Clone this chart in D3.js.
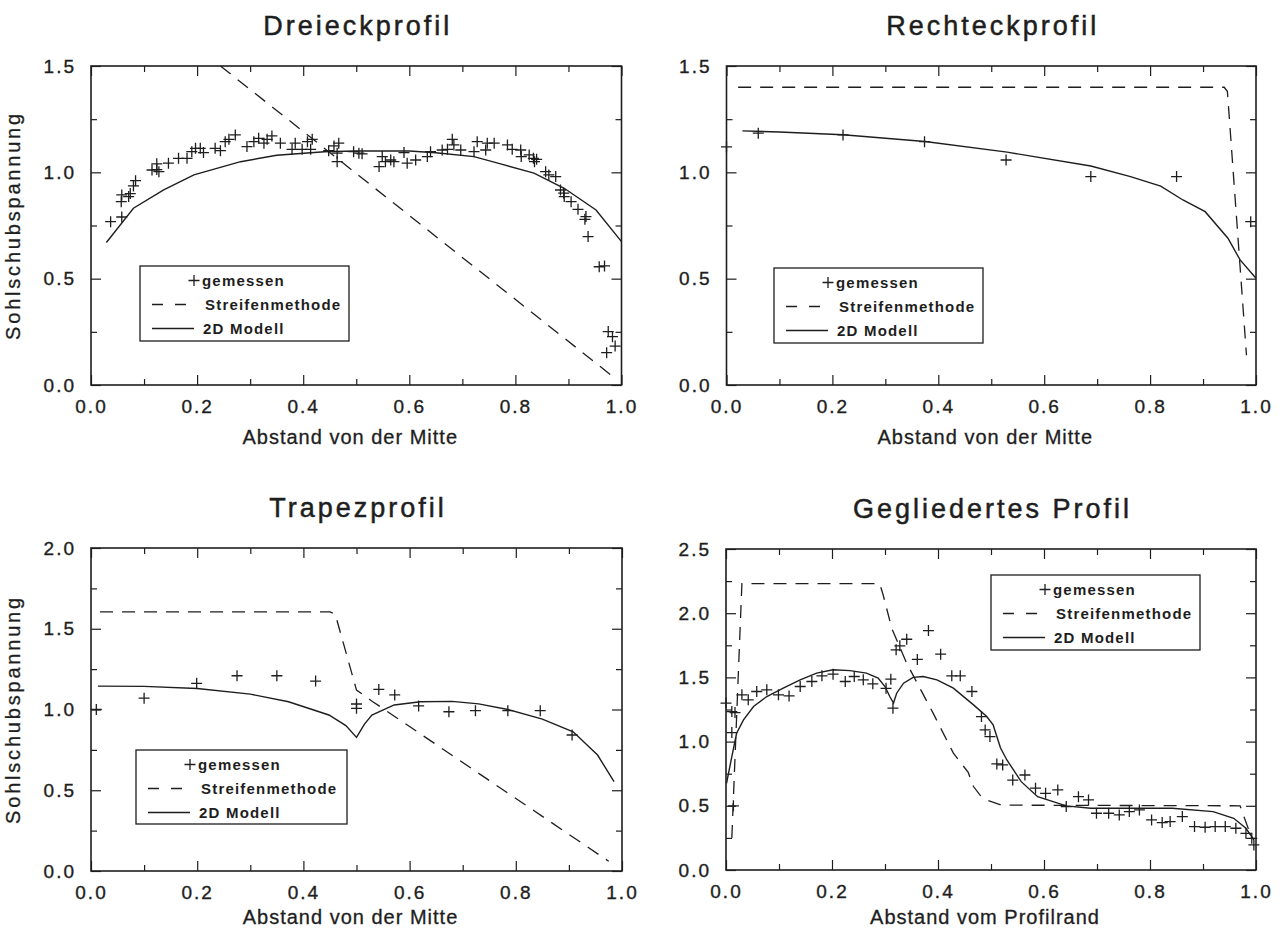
<!DOCTYPE html>
<html><head><meta charset="utf-8">
<script src="https://cdn.jsdelivr.net/npm/d3@7"></script>
<style>
body{margin:0;background:#fff}
text{font-family:"Liberation Sans",Arial,Helvetica,sans-serif;fill:#1e1e1e}
</style>
</head><body>
<svg id="chart" width="1283" height="932"></svg>
<script>
// ---------------- DATA ----------------
const xMajorTicks = [0, 0.2, 0.4, 0.6, 0.8, 1.0];
const xMinorTicks = [0.1, 0.3, 0.5, 0.7, 0.9];
const yMajorTicks15 = [0, 0.5, 1.0, 1.5];
const yMinorTicks15 = [0.25, 0.75, 1.25];
const yMajorTicks20 = [0, 0.5, 1.0, 1.5, 2.0];
const yMinorTicks20 = [0.25, 0.75, 1.25, 1.75];
const yMajorTicks25 = [0, 0.5, 1.0, 1.5, 2.0, 2.5];
const yMinorTicks25 = [0.25, 0.75, 1.25, 1.75, 2.25];

const titles = ["Dreieckprofil", "Rechteckprofil", "Trapezprofil", "Gegliedertes Profil"];
const xTitles = ["Abstand von der Mitte", "Abstand von der Mitte", "Abstand von der Mitte", "Abstand vom Profilrand"];
const yTitle = "Sohlschubspannung";
const legendLabels = ["gemessen", "Streifenmethode", "2D Modell"];

// Dreieckprofil
const dreieckGemessen = [[0.037,0.768],[0.058,0.79],[0.057,0.862],[0.058,0.894],[0.071,0.886],[0.074,0.90],[0.080,0.936],[0.084,0.961],[0.115,1.011],[0.124,1.013],[0.128,1.003],[0.124,1.04],[0.146,1.043],[0.165,1.066],[0.181,1.066],[0.19,1.097],[0.197,1.113],[0.206,1.113],[0.212,1.093],[0.234,1.113],[0.244,1.102],[0.253,1.144],[0.26,1.155],[0.272,1.176],[0.294,1.121],[0.307,1.144],[0.316,1.16],[0.326,1.137],[0.332,1.155],[0.341,1.171],[0.357,1.137],[0.379,1.108],[0.385,1.137],[0.398,1.108],[0.408,1.144],[0.414,1.108],[0.417,1.155],[0.448,1.102],[0.458,1.124],[0.464,1.09],[0.467,1.137],[0.464,1.05],[0.495,1.097],[0.505,1.09],[0.511,1.087],[0.543,1.027],[0.549,1.074],[0.555,1.05],[0.565,1.058],[0.571,1.05],[0.59,1.093],[0.596,1.043],[0.612,1.058],[0.634,1.074],[0.64,1.097],[0.662,1.105],[0.672,1.108],[0.681,1.155],[0.684,1.129],[0.697,1.105],[0.722,1.097],[0.728,1.144],[0.744,1.105],[0.747,1.137],[0.76,1.137],[0.785,1.129],[0.794,1.108],[0.81,1.105],[0.811,1.074],[0.826,1.082],[0.834,1.066],[0.836,1.05],[0.84,1.061],[0.857,1.003],[0.863,0.988],[0.876,0.98],[0.885,0.917],[0.891,0.902],[0.892,0.886],[0.905,0.862],[0.918,0.826],[0.933,0.792],[0.931,0.779],[0.937,0.698],[0.958,0.556],[0.968,0.56],[0.975,0.251],[0.983,0.227],[0.988,0.183],[0.972,0.152]];
const dreieckStreifen = [[0.244,1.5],[0.98,0.047]];
const dreieckModell = [[0.029,0.67],[0.08,0.831],[0.137,0.917],[0.194,0.988],[0.282,1.05],[0.35,1.08],[0.44,1.097],[0.5,1.1],[0.6,1.1],[0.65,1.092],[0.722,1.074],[0.772,1.04],[0.835,0.996],[0.892,0.925],[0.952,0.823],[1.0,0.674]];

// Rechteckprofil
const rechteckGemessen = [[0.0,1.12],[0.06,1.184],[0.22,1.176],[0.374,1.144],[0.528,1.058],[0.688,0.98],[0.85,0.98],[0.99,0.768]];
const rechteckStreifen = [[0.022,1.4],[0.94,1.4],[0.946,1.38],[0.982,0.14]];
const rechteckModell = [[0.03,1.195],[0.1,1.19],[0.22,1.177],[0.375,1.145],[0.53,1.095],[0.688,1.03],[0.763,0.98],[0.82,0.935],[0.862,0.87],[0.904,0.815],[0.947,0.69],[0.97,0.588],[1.0,0.502]];

// Trapezprofil
const trapezGemessen = [[0.01,1.0],[0.1,1.07],[0.199,1.162],[0.275,1.209],[0.35,1.209],[0.423,1.176],[0.5,1.034],[0.5,1.007],[0.542,1.124],[0.572,1.09],[0.617,1.022],[0.674,0.986],[0.724,0.993],[0.785,0.993],[0.846,0.993],[0.906,0.842]];
const trapezStreifen = [[0.017,1.605],[0.45,1.605],[0.46,1.59],[0.5,1.12],[0.53,1.05],[0.975,0.06]];
const trapezModell = [[0.013,1.145],[0.1,1.143],[0.2,1.13],[0.3,1.095],[0.372,1.048],[0.448,0.966],[0.48,0.9],[0.5,0.827],[0.515,0.91],[0.529,0.966],[0.571,1.028],[0.62,1.048],[0.68,1.05],[0.73,1.035],[0.785,1.0],[0.85,0.94],[0.908,0.862],[0.954,0.718],[0.985,0.553]];

// Gegliedertes Profil
const gegliedertGemessen = [[0.0,1.3],[0.011,1.234],[0.017,1.226],[0.011,1.07],[0.014,0.5],[0.03,1.364],[0.042,1.325],[0.058,1.39],[0.077,1.403],[0.099,1.364],[0.119,1.356],[0.14,1.429],[0.162,1.468],[0.181,1.512],[0.202,1.525],[0.225,1.468],[0.242,1.507],[0.259,1.481],[0.277,1.45],[0.302,1.415],[0.311,1.486],[0.315,1.26],[0.321,1.715],[0.328,1.746],[0.341,1.797],[0.361,1.64],[0.382,1.865],[0.405,1.681],[0.426,1.512],[0.442,1.512],[0.464,1.39],[0.482,1.195],[0.489,1.091],[0.498,1.039],[0.511,0.826],[0.522,0.818],[0.541,0.70],[0.564,0.74],[0.584,0.637],[0.603,0.597],[0.626,0.624],[0.642,0.494],[0.665,0.571],[0.684,0.546],[0.699,0.442],[0.722,0.442],[0.742,0.429],[0.761,0.455],[0.78,0.468],[0.803,0.39],[0.823,0.369],[0.838,0.377],[0.861,0.416],[0.884,0.338],[0.904,0.333],[0.923,0.338],[0.942,0.338],[0.962,0.325],[0.981,0.286],[0.992,0.247],[0.996,0.195]];
const gegliedertStreifen = [[0.011,0.25],[0.03,2.23],[0.29,2.23],[0.296,2.15],[0.313,1.88],[0.341,1.61],[0.391,1.22],[0.429,0.91],[0.457,0.76],[0.467,0.65],[0.48,0.58],[0.495,0.54],[0.52,0.505],[0.97,0.5],[0.99,0.27]];
const gegliedertModell = [[0.001,0.675],[0.011,0.883],[0.02,1.065],[0.033,1.169],[0.052,1.273],[0.077,1.351],[0.108,1.416],[0.14,1.481],[0.171,1.533],[0.202,1.559],[0.234,1.553],[0.265,1.533],[0.287,1.494],[0.3,1.429],[0.309,1.351],[0.316,1.3],[0.322,1.377],[0.335,1.455],[0.353,1.5],[0.372,1.507],[0.398,1.481],[0.429,1.416],[0.467,1.286],[0.492,1.195],[0.504,1.13],[0.511,1.04],[0.518,0.95],[0.53,0.857],[0.557,0.688],[0.588,0.571],[0.642,0.499],[0.688,0.481],[0.842,0.481],[0.919,0.455],[0.958,0.403],[0.981,0.325],[0.996,0.234]];

// ---------------- LAYOUT ----------------
const panels = [
  {title:titles[0], xTitle:xTitles[0], yTitle:true, ymax:1.5, yMaj:yMajorTicks15, yMin:yMinorTicks15,
   left:91, right:621.5, top:66, bottom:385, xTitleOff:59, meas:dreieckGemessen, strip:dreieckStreifen, model:dreieckModell,
   legend:{x:140, y:266, w:209, h:75}},
  {title:titles[1], xTitle:xTitles[1], yTitle:false, ymax:1.5, yMaj:yMajorTicks15, yMin:yMinorTicks15,
   left:726.5, right:1256, top:66, bottom:385, xTitleOff:59, meas:rechteckGemessen, strip:rechteckStreifen, model:rechteckModell,
   legend:{x:774, y:268, w:209, h:75}},
  {title:titles[2], xTitle:xTitles[2], yTitle:true, ymax:2.0, yMaj:yMajorTicks20, yMin:yMinorTicks20,
   left:91, right:622, top:548, bottom:871, xTitleOff:53, meas:trapezGemessen, strip:trapezStreifen, model:trapezModell,
   legend:{x:136, y:750, w:211, h:74}},
  {title:titles[3], xTitle:xTitles[3], yTitle:false, ymax:2.5, yMaj:yMajorTicks25, yMin:yMinorTicks25,
   left:726, right:1256, top:549, bottom:870, xTitleOff:54, meas:gegliedertGemessen, strip:gegliedertStreifen, model:gegliedertModell,
   legend:{x:991, y:575, w:209, h:75}}
];

const INK = "#1e1e1e";
const svg = d3.select("#chart");
svg.append("rect").attr("width",1283).attr("height",932).attr("fill","#fff");

const plusPath = "M-5.5,0H5.5M0,-5.5V5.5";
const fmt = d3.format(".1f");

function styleAxis(sel){
  sel.select(".domain").remove();
  sel.selectAll(".tick line").attr("stroke", INK).attr("stroke-width", 1.2);
  sel.selectAll(".tick text").attr("fill", INK).attr("stroke", INK).attr("stroke-width", 0.35)
     .style("font-size","19px").style("letter-spacing","2px").attr("font-family", null);
}

panels.forEach(p => {
  const g = svg.append("g");
  const x = d3.scaleLinear().domain([0,1]).range([p.left, p.right]);
  const y = d3.scaleLinear().domain([0,p.ymax]).range([p.bottom, p.top]);
  const cx = (p.left + p.right) / 2;

  // title
  g.append("text").attr("x", cx + 1.5).attr("y", p.top - 31).attr("text-anchor","middle")
    .attr("stroke", INK).attr("stroke-width", 0.5)
    .style("font-size","27px").style("letter-spacing","3px").text(p.title);

  // axes: major with labels (bottom/left), ticks inside on all sides
  g.append("g").attr("transform",`translate(0,${p.bottom})`)
    .call(d3.axisBottom(x).tickValues(xMajorTicks).tickSize(-10).tickPadding(15).tickFormat(fmt)).call(styleAxis);
  g.append("g").attr("transform",`translate(0,${p.bottom})`)
    .call(d3.axisBottom(x).tickValues(xMinorTicks).tickSize(-6).tickFormat("")).call(styleAxis);
  g.append("g").attr("transform",`translate(0,${p.top})`)
    .call(d3.axisTop(x).tickValues(xMajorTicks).tickSize(-10).tickFormat("")).call(styleAxis);
  g.append("g").attr("transform",`translate(0,${p.top})`)
    .call(d3.axisTop(x).tickValues(xMinorTicks).tickSize(-6).tickFormat("")).call(styleAxis);
  g.append("g").attr("transform",`translate(${p.left},0)`)
    .call(d3.axisLeft(y).tickValues(p.yMaj).tickSize(-10).tickPadding(15).tickFormat(fmt)).call(styleAxis);
  g.append("g").attr("transform",`translate(${p.left},0)`)
    .call(d3.axisLeft(y).tickValues(p.yMin).tickSize(-6).tickFormat("")).call(styleAxis);
  g.append("g").attr("transform",`translate(${p.right},0)`)
    .call(d3.axisRight(y).tickValues(p.yMaj).tickSize(-10).tickFormat("")).call(styleAxis);
  g.append("g").attr("transform",`translate(${p.right},0)`)
    .call(d3.axisRight(y).tickValues(p.yMin).tickSize(-6).tickFormat("")).call(styleAxis);

  // frame
  g.append("rect").attr("x",p.left).attr("y",p.top).attr("width",p.right-p.left).attr("height",p.bottom-p.top)
    .attr("fill","none").attr("stroke",INK).attr("stroke-width",1.6);

  // axis titles
  g.append("text").attr("x", cx - 6).attr("y", p.bottom + p.xTitleOff).attr("text-anchor","middle")
    .attr("stroke", INK).attr("stroke-width", 0.3)
    .style("font-size","20px").style("letter-spacing","1px").text(p.xTitle);
  if (p.yTitle) {
    g.append("text").attr("transform",`translate(${p.left-71},${(p.top+p.bottom)/2}) rotate(-90)`)
      .attr("text-anchor","middle").attr("stroke", INK).attr("stroke-width", 0.3)
      .style("font-size","20px").style("letter-spacing","2.8px").text(yTitle);
  }

  const line = d3.line().x(d => x(d[0])).y(d => y(d[1]));
  // Streifenmethode (dashed)
  g.append("path").attr("d", line(p.strip)).attr("fill","none").attr("stroke",INK)
    .attr("stroke-width",1.3).attr("stroke-dasharray","13,9");
  // 2D Modell (solid)
  g.append("path").attr("d", line(p.model)).attr("fill","none").attr("stroke",INK).attr("stroke-width",1.4);
  // gemessen (+)
  g.selectAll("path.m").data(p.meas).join("path").attr("class","m").attr("d", plusPath)
    .attr("transform", d => `translate(${x(d[0])},${y(d[1])})`)
    .attr("stroke",INK).attr("stroke-width",1.3).attr("fill","none");

  // legend
  const L = p.legend;
  const lg = g.append("g").attr("transform",`translate(${L.x},${L.y})`);
  lg.append("rect").attr("width",L.w).attr("height",L.h).attr("fill","#fff").attr("stroke",INK).attr("stroke-width",1.3);
  const rows = [14.5, 38.5, 62.5];
  lg.append("path").attr("d", plusPath).attr("transform",`translate(54,${rows[0]})`).attr("stroke",INK).attr("stroke-width",1.3);
  lg.append("path").attr("d", d3.line()([[12,rows[1]],[46,rows[1]]])).attr("stroke",INK).attr("stroke-width",1.3).attr("stroke-dasharray","11,12");
  lg.append("path").attr("d", d3.line()([[12,rows[2]],[54,rows[2]]])).attr("stroke",INK).attr("stroke-width",1.3);
  const tx = [62, 65, 63];
  legendLabels.forEach((t,i) => {
    lg.append("text").attr("x", tx[i]).attr("y", rows[i]).attr("dy","0.35em")
      .style("font-size","15px").style("font-weight","bold").style("letter-spacing","1.2px").text(t);
  });
});
</script>
</body></html>
